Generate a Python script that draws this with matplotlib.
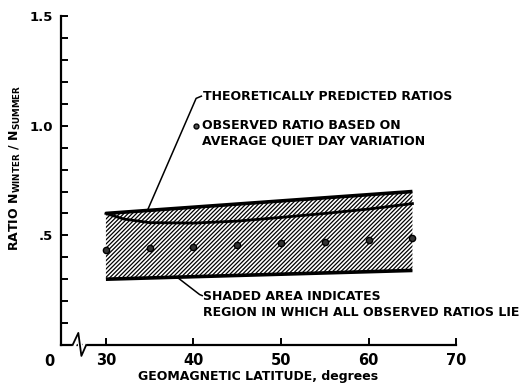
import numpy as np
import matplotlib
matplotlib.use('Agg')
import matplotlib.pyplot as plt

# band of observed ratios (edges)
band_lat = [30, 65]
band_low = [0.30, 0.34]
band_high = [0.60, 0.70]

# theoretically predicted curve
theory_lat = [30, 32, 35, 40, 45, 50, 55, 60, 65]
theory_ratio = [0.60, 0.575, 0.558, 0.556, 0.565, 0.582, 0.60, 0.62, 0.645]

# observed ratios, quiet day variation
obs_lat = [30, 35, 40, 45, 50, 55, 60, 65]
obs_ratio = [0.434, 0.444, 0.449, 0.455, 0.467, 0.472, 0.479, 0.49]

x_ticks = [30, 40, 50, 60, 70]
y_ticks = [0.5, 1.0, 1.5]
y_ticklabels = ['.5', '1.0', '1.5']

plt.rcParams['font.family'] = 'DejaVu Sans'
plt.rcParams['font.weight'] = 'bold'
plt.rcParams['axes.labelweight'] = 'bold'
plt.rcParams['hatch.linewidth'] = 0.9

fig = plt.figure(figsize=(5.25, 3.85), dpi=100)
ax = fig.add_axes([0.116, 0.104, 0.753, 0.854])

# shaded region
xs = np.linspace(band_lat[0], band_lat[1], 50)
lo = np.interp(xs, band_lat, band_low)
hi = np.interp(xs, band_lat, band_high)
ax.fill_between(xs, lo, hi, facecolor='none', edgecolor='black',
                hatch='////////', linewidth=0)
ax.plot(band_lat, band_low, color='black', lw=2.6, solid_capstyle='butt')
ax.plot(band_lat, band_high, color='black', lw=2.6, solid_capstyle='butt')
ax.plot(theory_lat, theory_ratio, color='black', lw=2.0)
ax.plot(obs_lat, obs_ratio, 'o', color='black', ms=4.5, mfc='#333333')

ax.set_xlim(24.86, 70)
ax.set_ylim(0, 1.5)

for s in ['top', 'right']:
    ax.spines[s].set_visible(False)
ax.spines['left'].set_linewidth(1.6)
ax.spines['bottom'].set_linewidth(1.6)

ax.set_xticks(x_ticks)
ax.set_yticks(y_ticks)
ax.set_yticklabels(y_ticklabels)
ax.set_yticks(np.arange(0.1, 1.5, 0.1), minor=True)
ax.tick_params(direction='in', width=1.4, length=5, labelsize=10.5)
ax.tick_params(axis='y', which='minor', direction='in', width=1.4, length=5)
ax.tick_params(axis='y', labelsize=9.5, pad=6)
ax.tick_params(axis='x', pad=6)

# origin label and axis break
ax.text(23.6, -0.075, '0', ha='center', va='center', fontsize=10.5, clip_on=False)
ax.plot([26.4, 26.85, 27.2, 27.55], [0, 0.055, -0.05, 0], color='white',
        lw=3, clip_on=False, zorder=5)
ax.plot([26.2, 26.85, 27.2, 27.75], [0, 0.055, -0.05, 0], color='black',
        lw=1.3, clip_on=False, zorder=6)

ax.set_xlabel('GEOMAGNETIC LATITUDE, degrees', fontsize=9, labelpad=1)
ax.set_ylabel(r'RATIO N$_{\mathbf{WINTER}}$ / N$_{\mathbf{SUMMER}}$',
              fontsize=9)
ax.yaxis.set_label_coords(-0.095, 0.54)

# annotations
ax.plot([34.7, 40.3, 40.9], [0.61, 1.125, 1.135], color='black', lw=1.1)
ax.text(41.1, 1.135, 'THEORETICALLY PREDICTED RATIOS', fontsize=9,
        ha='left', va='center')
ax.plot([40.3], [1.0], 'o', color='black', ms=3.5, mfc='#555555')
ax.text(41.0, 1.0, 'OBSERVED RATIO BASED ON', fontsize=9, ha='left', va='center')
ax.text(41.0, 0.93, 'AVERAGE QUIET DAY VARIATION', fontsize=9, ha='left', va='center')

ax.plot([38.1, 40.7, 41.0], [0.31, 0.23, 0.225], color='black', lw=1.1)
ax.text(41.1, 0.22, 'SHADED AREA INDICATES', fontsize=9, ha='left', va='center')
ax.text(41.1, 0.15, 'REGION IN WHICH ALL OBSERVED RATIOS LIE', fontsize=9,
        ha='left', va='center')

fig.savefig('out.png', dpi=100)
